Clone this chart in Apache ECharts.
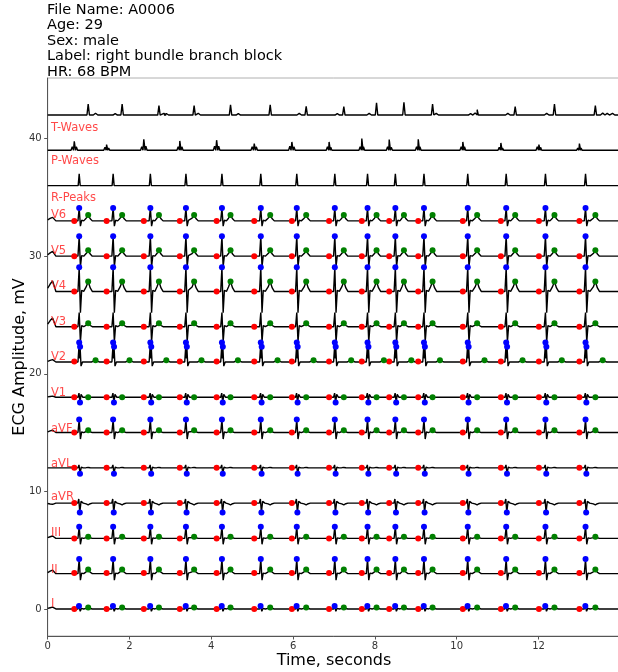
<!DOCTYPE html>
<html><head><meta charset="utf-8">
<script src="https://cdn.jsdelivr.net/npm/echarts@6/dist/echarts.min.js"></script>
<style>html,body{margin:0;padding:0;background:#fff}#c{width:618px;height:672px}</style>
</head><body><div id="c"></div>
<script>
// ---- data ----
const infoLines = ['File Name: A0006','Age: 29','Sex: male','Label: right bundle branch block','HR: 68 BPM'];
const xTicks = [0,2,4,6,8,10,12];
const yTicks = [0,10,20,30,40];

const rTimes = [0.77,1.60,2.51,3.38,4.26,5.21,6.09,7.02,7.82,8.50,9.20,10.27,11.21,12.17,13.15];
const pTimes = [0.65,1.44,2.35,3.23,4.13,5.05,5.97,6.88,7.68,8.35,9.06,10.15,11.08,12.01,13.00];
const tTimes = [0.99,1.82,2.72,3.58,4.47,5.44,6.32,7.24,8.04,8.71,9.41,10.50,11.43,12.39,13.39];

// summary rows (top of chart)
const summaryOffsets = [42,39,36];
const tRowHeights = [0.94,0.94,0.8,0.8,0.86,0.86,0.74,0.71,1.03,1.09,0.94,0.46,0.71,0.94,0.8];
const tRowMinor = [[1.17,0.15],[1.65,0.12],[2.84,0.15],[2.90,0.13],[3.68,0.15],[4.66,0.12],[6.15,0.14],[7.08,0.12],[7.86,0.14],[9.50,0.14],[10.34,0.12],[10.45,0.18],[11.25,0.14],[12.20,0.14],[13.57,0.16],[13.68,0.14],[13.81,0.14]];
const pRowHeights = [0.77,0.49,0.94,0.8,0.86,0.57,0.71,0.71,1.0,0.91,0.94,0.71,0.63,0.49,0.57];
const pRowMinor = [[0.60,0.3],[0.70,0.3],[1.40,0.25],[1.49,0.2],[2.30,0.3],[2.40,0.35],[3.19,0.3],[3.28,0.3],[4.08,0.35],[4.18,0.35],[5.00,0.3],[5.10,0.3],[5.92,0.35],[6.02,0.3],[6.84,0.3],[6.92,0.25],[7.64,0.3],[7.72,0.3],[8.31,0.3],[8.40,0.25],[9.02,0.3],[9.10,0.3],[10.11,0.3],[10.19,0.3],[11.04,0.25],[11.12,0.2],[11.97,0.3],[12.05,0.25],[12.96,0.2],[13.04,0.2]];
const rRowHeights = [1.0,1.0,1.0,1.0,1.0,1.0,1.0,1.0,1.0,1.0,1.0,1.0,1.0,1.0,1.0];

// leads
const leadNames   = ['I','II','III','aVR','aVL','aVF','V1','V2','V3','V4','V5','V6'];
const leadOffsets = [0,3,6,9,12,15,18,21,24,27,30,33];
const qrsI   = [[-0.03,0],[-0.005,0.26],[0.025,-0.2],[0.055,0.05],[0.11,0]];
const qrsII  = [[-0.03,0],[0,1.25],[0.03,-0.55],[0.06,0.05],[0.11,0]];
const qrsIII = [[-0.03,0],[0,1.0],[0.03,-0.5],[0.06,0.05],[0.11,0]];
const qrsAVR = [[-0.035,0],[-0.01,0.35],[0.015,-0.8],[0.045,0.15],[0.1,0]];
const qrsAVL = [[-0.03,0],[-0.005,0.25],[0.02,-0.5],[0.05,0.05],[0.1,0]];
const qrsAVF = [[-0.03,0],[0,1.1],[0.03,-0.55],[0.06,0.05],[0.11,0]];
const qrsV1  = [[-0.03,0],[-0.005,0.35],[0.02,-0.45],[0.045,0.25],[0.09,0]];
const qrsV2  = [[-0.03,0],[0,1.6],[0.012,0.3],[0.022,1.3],[0.045,-0.35],[0.08,0]];
const qrsV3  = [[-0.03,0],[0,1.2],[0.03,-1.3],[0.06,0.1],[0.11,0]];
const qrsV4  = [[-0.03,0],[0,2.05],[0.03,-1.8],[0.06,0.1],[0.11,0]];
const qrsV5  = [[-0.03,0],[0,1.7],[0.03,-0.9],[0.06,0.05],[0.11,0]];
const qrsV6  = [[-0.03,0],[0,1.1],[0.03,-0.45],[0.06,0.05],[0.11,0]];
const qrsShapes = [qrsI,qrsII,qrsIII,qrsAVR,qrsAVL,qrsAVF,qrsV1,qrsV2,qrsV3,qrsV4,qrsV5,qrsV6];
const blueMarks = [[[-0.005,0.26]],[[0,1.25]],[[0,1.0]],[[0.015,-0.8]],[[0.02,-0.5]],[[0,1.1]],[[0.02,-0.45]],[[0,1.65],[0.022,1.3]],[],[[0,2.05]],[[0,1.7]],[[0,1.1]]];
const tAmps      = [0.12,0.35,0.15,-0.15,0.03,0.2,0.0,0.15,0.3,0.85,0.5,0.5];
const tShifts    = [0,0,0,0,0,0,0,0.18,0,0,0,0];
const greenShown = [1,1,1,0,0,1,1,1,1,1,1,1];
const pMarkAmps  = [0,0.05,0,0,0,0,0,0.05,0,0,0,0];
const startAmps  = [0.15,0.3,0.2,-0.1,0,0.2,0.1,0.2,0.75,0.9,0.4,0.3];
const tShape = [[-0.1,0],[-0.05,0.45],[0,1],[0.05,0.35],[0.1,0]];

const labelTexts = ['T-Waves','P-Waves','R-Peaks','V6','V5','V4','V3','V2','V1','aVF','aVL','aVR','III','II','I'];
const labelY     = [40.93,38.13,34.93,33.53,30.43,27.43,24.43,21.43,18.33,15.33,12.33,9.53,6.43,3.33,0.43];

// ---- build series ----
const X_END = 14;
function spikeRow(off, mains, heights, minors, w, wm) {
  const peaks = mains.map((t,i)=>[t,heights[i],w]).concat(minors.map(([t,h])=>[t,h,wm])).sort((a,b)=>a[0]-b[0]);
  const pts = [[0,off]];
  peaks.forEach(([t,h,ww])=>{ pts.push([t-ww,off],[t,off+h],[t+ww,off]); });
  pts.push([X_END,off]);
  return pts;
}
function leadTrace(k) {
  const off = leadOffsets[k];
  let ev = [];
  const sa = startAmps[k];
  ev.push([0,sa*0.3],[0.06,sa*0.7],[0.12,sa],[0.2,0]);
  rTimes.forEach(r=>qrsShapes[k].forEach(([dt,a])=>ev.push([r+dt,a])));
  tTimes.forEach(t=>tShape.forEach(([dt,a])=>ev.push([t+tShifts[k]+dt,a*tAmps[k]])));
  ev.sort((a,b)=>a[0]-b[0]);
  ev.push([X_END,0]);
  return ev.map(([t,a])=>[t,off+a]);
}
const series = [];
const lineStyle = {color:'#000',width:1.4};
series.push({type:'line',data:spikeRow(summaryOffsets[0],tTimes,tRowHeights,tRowMinor,0.03,0.055),showSymbol:false,lineStyle,silent:true,z:2});
series.push({type:'line',data:spikeRow(summaryOffsets[1],pTimes,pRowHeights,pRowMinor,0.03,0.03),showSymbol:false,lineStyle,silent:true,z:2});
series.push({type:'line',data:spikeRow(summaryOffsets[2],rTimes,rRowHeights,[],0.025,0.025),showSymbol:false,lineStyle,silent:true,z:2});
leadNames.forEach((n,k)=>series.push({type:'line',name:n,data:leadTrace(k),showSymbol:false,lineStyle,silent:true,z:2}));

const redPts=[], bluePts=[], greenPts=[];
leadNames.forEach((n,k)=>{
  const off = leadOffsets[k];
  pTimes.forEach(t=>redPts.push([t,off+pMarkAmps[k]]));
  rTimes.forEach(r=>blueMarks[k].forEach(([dt,a])=>bluePts.push([r+dt,off+a])));
  if (greenShown[k]) tTimes.forEach(t=>greenPts.push([t+tShifts[k],off+tAmps[k]]));
});
const mk = (data,color)=>({type:'scatter',data,symbolSize:6,itemStyle:{color,opacity:1},silent:true,z:5});
series.push(mk(redPts,'#ff0000'), mk(bluePts,'#0000ff'), mk(greenPts,'#008000'));

series.push({type:'scatter',symbolSize:0,silent:true,z:6,
  data:labelTexts.map((s,i)=>({name:s,value:[0.08,labelY[i]]})),
  label:{show:true,position:'right',distance:0,formatter:p=>p.name,color:'#ff1a1a',fontSize:11.5,fontFamily:'DejaVu Sans'}});

const chart = echarts.init(document.getElementById('c'),null,{renderer:'canvas'});
chart.setOption({
  animation:false,
  backgroundColor:'#fff',
  textStyle:{fontFamily:'DejaVu Sans'},
  title:{text:infoLines.join('\n'),left:47,top:2,padding:0,
    textStyle:{fontFamily:'DejaVu Sans',fontSize:14.5,fontWeight:'normal',color:'#000',lineHeight:15.6}},
  grid:{left:47.7,right:-2.3,top:78,bottom:36,show:true,borderColor:'#b0b0b0',borderWidth:1,outerBoundsMode:'none',containLabel:false},
  xAxis:{type:'value',min:0,max:X_END,interval:2,
    axisLine:{show:true,onZero:false,lineStyle:{color:'#555',width:1}},
    axisTick:{show:true,length:3.5,lineStyle:{color:'#555'},customValues:xTicks},
    axisLabel:{fontSize:10,color:'#333',margin:5,fontFamily:'DejaVu Sans',customValues:xTicks},
    splitLine:{show:false},
    name:'Time, seconds',nameLocation:'middle',nameGap:17,nameMoveOverlap:false,
    nameTextStyle:{fontSize:16,color:'#000',fontFamily:'DejaVu Sans',verticalAlign:'top'}},
  yAxis:{type:'value',min:-2.3,max:45.15,
    axisLine:{show:true,onZero:false,lineStyle:{color:'#555',width:1}},
    axisTick:{show:true,length:3.5,lineStyle:{color:'#555'},customValues:yTicks},
    axisLabel:{fontSize:10,color:'#333',margin:6,fontFamily:'DejaVu Sans',customValues:yTicks},
    splitLine:{show:false},
    name:'ECG Amplitude, mV',nameLocation:'middle',nameGap:19.5,nameMoveOverlap:false,
    nameTextStyle:{fontSize:16,color:'#000',fontFamily:'DejaVu Sans'}},
  series
});
</script></body></html>
